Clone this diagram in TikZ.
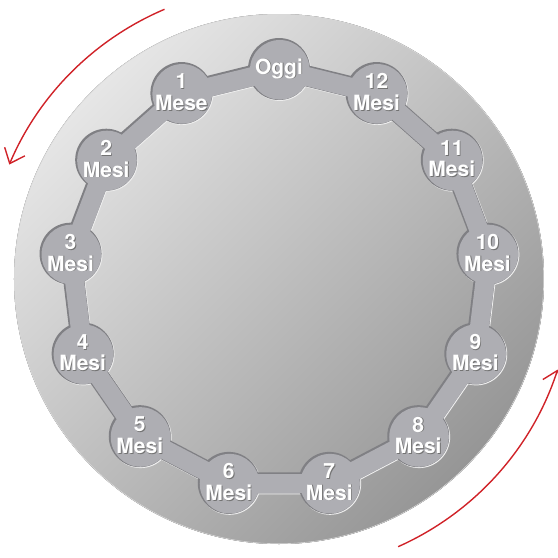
\documentclass[tikz,border=0pt]{standalone}
\usepackage{fontspec}
\setmainfont{TeX Gyre Heros}
\usetikzlibrary{arrows.meta}
\definecolor{DiscLight}{RGB}{230,230,230}
\definecolor{DiscDark}{RGB}{150,150,150}
\definecolor{GrooveFill}{RGB}{174,174,179}
\definecolor{GrooveShade}{RGB}{128,128,132}
\definecolor{GrooveLight}{RGB}{238,238,238}
\definecolor{ArrowRed}{RGB}{208,34,40}
\pgfdeclarelayer{background}
\pgfsetlayers{background,main}

% white text with a small dark drop shadow
\newcommand{\shline}[1]{\leavevmode\rlap{\kern0.9pt\raisebox{-0.9pt}{\color{black!55}#1}}#1}
% band + circles of the groove: colour, radius, band width, shift
\newcommand{\groovepath}[4]{%
  \draw[#1, line width=#3, line join=round]
    ([shift={(#4)}]m0.center) foreach \k in {1,...,12}{ -- ([shift={(#4)}]m\k.center)} -- cycle;
  \foreach \k in {0,...,12} \fill[#1] ([shift={(#4)}]m\k.center) circle (#2);
}

\begin{document}
\begin{tikzpicture}[
  x=1pt, y=1pt,
  month/.style={circle, minimum size=62pt, inner sep=0pt, align=center, text=white,
    font=\fontsize{21}{21.5}\selectfont\bfseries},
  turn/.style={draw=ArrowRed, line width=1.4pt, -{Straight Barb[length=13pt, width=22pt]}},
]
\useasboundingbox (-279,-279) rectangle (279,279);

% the months round the dial
\node[month] (m0) at (90:210) {\shline{Oggi}};
\foreach \n in {1,...,12}
  \node[month] (m\n) at ({90+\n*360/13}:210)
    {\raisebox{2pt}{\shline{\n}}\\\raisebox{2pt}{\shline{\ifnum\n=1 Mese\else Mesi\fi}}};

\begin{pgfonlayer}{background}
  \fill[top color=DiscLight, bottom color=DiscDark, shading angle=45] (0,0) circle (265);
  \draw[white!70!gray, line width=0.6pt] (0,0) circle (264.7);
  \groovepath{GrooveLight}{31}{21pt}{0.9,-0.9}
  \groovepath{GrooveShade}{31}{21pt}{0,0}
  \groovepath{GrooveFill}{29.8}{19pt}{0.8,-0.8}
\end{pgfonlayer}

% direction arrows
\coordinate (t0) at (113:293);
\coordinate (b0) at (294:293);
\draw[turn] (t0) arc[start angle=113, end angle=157, radius=293];
\draw[turn] (b0) arc[start angle=294, end angle=342, radius=293];
\end{tikzpicture}
\end{document}
